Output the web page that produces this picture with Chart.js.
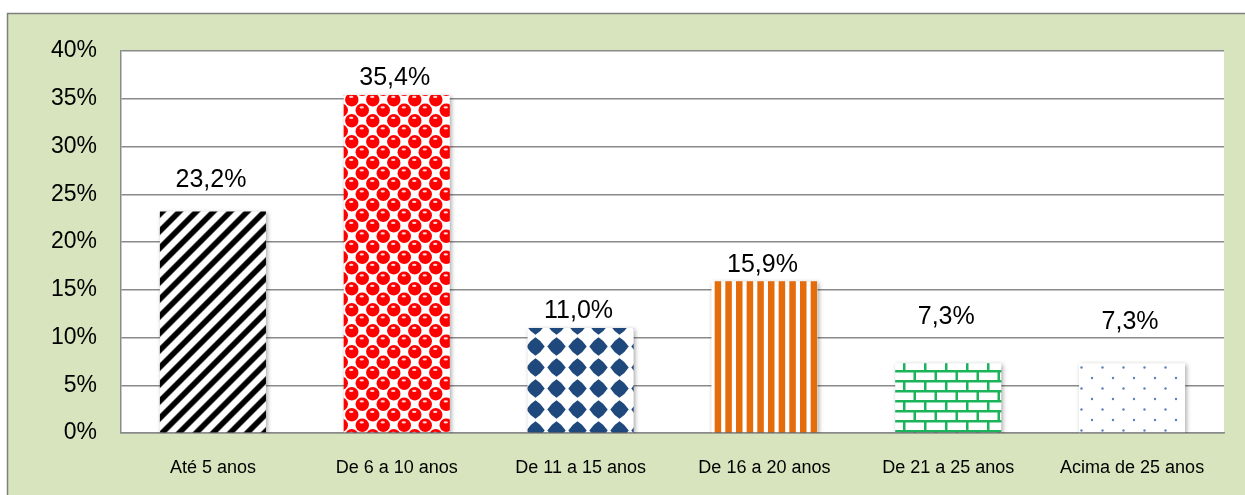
<!DOCTYPE html>
<html>
<head>
<meta charset="utf-8">
<script src="https://cdn.jsdelivr.net/npm/chart.js@4.4.0/dist/chart.umd.min.js"></script>
<style>
  body { margin: 0; background: #fff; }
  #wrap { width: 1245px; height: 495px; }
</style>
</head>
<body>
<div id="wrap"><canvas id="ageChart"></canvas></div>
<script>
const categories = ["Até 5 anos", "De 6 a 10 anos", "De 11 a 15 anos", "De 16 a 20 anos", "De 21 a 25 anos", "Acima de 25 anos"];
const shares = [23.2, 35.4, 11.0, 15.9, 7.3, 7.3];
const yTickLabels = ["0%", "5%", "10%", "15%", "20%", "25%", "30%", "35%", "40%"];

// how far above each bar its label sits (Excel moved some of them)
const labelLift = [24, 10, 10, 9, 39, 34];
const FONT = "'Liberation Sans', Arial, sans-serif";

function makeTile(w, h, draw) {
    const c = document.createElement("canvas");
    c.width = w;
    c.height = h;
    const g = c.getContext("2d");
    g.fillStyle = "#fff";
    g.fillRect(0, 0, w, h);
    draw(g, w, h);
    return g.createPattern(c, "repeat");
}

// diagonal "/" stripes, computed per pixel so the tile wraps cleanly
const stripes = makeTile(17, 17, (g, w, h) => {
    const img = g.getImageData(0, 0, w, h);
    for (let y = 0; y < h; y++) {
        for (let x = 0; x < w; x++) {
            let t = (x + y + 1) % w;
            if (t > w / 2) t = w - t;
            const d = t / Math.SQRT2;           // distance to stripe centre
            let k = Math.min(1, Math.max(0, (d - 2.0) / 1.6));
            const v = Math.round(255 * k);
            const p = (y * w + x) * 4;
            img.data[p] = img.data[p + 1] = img.data[p + 2] = v;
            img.data[p + 3] = 255;
        }
    }
    g.putImageData(img, 0, 0);
});

const spheres = makeTile(21, 21, (g, w, h) => {
    const centers = [[5.25, 5.25], [15.75, 15.75]];
    for (const [cx, cy] of centers) {
        for (const dx of [-w, 0, w]) {
            for (const dy of [-h, 0, h]) {
                const x = cx + dx, y = cy + dy;
                g.fillStyle = "#ff0000";
                g.beginPath();
                g.arc(x, y, 6.7, 0, Math.PI * 2);
                g.fill();
                g.fillStyle = "rgba(255,255,255,0.85)";
                g.beginPath();
                g.ellipse(x - 0.5, y - 2.8, 2.2, 1.1, 0, 0, Math.PI * 2);
                g.fill();
            }
        }
    }
});

const diamonds = makeTile(21, 21, (g, w, h) => {
    const cx = 10.5, cy = 10.5, r = 9.2;
    g.fillStyle = "#1f497d";
    g.beginPath();
    g.moveTo(cx, cy - r);
    g.quadraticCurveTo(cx + r * 0.62, cy - r * 0.62, cx + r, cy);
    g.quadraticCurveTo(cx + r * 0.62, cy + r * 0.62, cx, cy + r);
    g.quadraticCurveTo(cx - r * 0.62, cy + r * 0.62, cx - r, cy);
    g.quadraticCurveTo(cx - r * 0.62, cy - r * 0.62, cx, cy - r);
    g.fill();
});

const vstripes = makeTile(32, 10, (g) => {
    g.fillStyle = "#e46c0a";
    for (let i = 0; i < 3; i++) g.fillRect(i * 32 / 3, 0, 6.5, 10);
});

const bricks = makeTile(21, 20, (g) => {
    g.fillStyle = "#1cb45a";
    g.fillRect(0, 0, 21, 2.5);
    g.fillRect(0, 10, 21, 2.5);
    g.fillRect(0, 2, 2.5, 8);
    g.fillRect(10.5, 12, 2.5, 8);
});

const dots = makeTile(21, 21, (g, w, h) => {
    g.fillStyle = "#5a82bf";
    const pts = [[0, 0], [w, 0], [0, h], [w, h], [10.5, 10.5]];
    for (const [x, y] of pts) {
        g.beginPath();
        g.arc(x, y, 1.2, 0, Math.PI * 2);
        g.fill();
    }
});

const frame = {
    id: "frame",
    beforeDraw(chart) {
        const ctx = chart.ctx, a = chart.chartArea;
        ctx.save();
        ctx.fillStyle = "#fff";
        ctx.fillRect(0, 0, chart.width, chart.height);
        ctx.fillStyle = "#d7e4bd";
        ctx.fillRect(7, 13, chart.width, chart.height);
        ctx.strokeStyle = "#7f7f7f";
        ctx.lineWidth = 1.5;
        ctx.strokeRect(7.5, 13.5, chart.width + 10, chart.height + 10);
        ctx.fillStyle = "#fff";
        ctx.fillRect(a.left, a.top, a.right - a.left, a.bottom - a.top);
        ctx.restore();
    }
};

const barLabels = {
    id: "barLabels",
    beforeDatasetsDraw(chart) {
        const ctx = chart.ctx;
        ctx.save();
        ctx.shadowColor = "rgba(0,0,0,0.35)";
        ctx.shadowBlur = 4;
        ctx.shadowOffsetX = 1.5;
        ctx.shadowOffsetY = 1.5;
    },
    afterDatasetsDraw(chart) {
        const ctx = chart.ctx;
        ctx.restore();
        ctx.save();
        ctx.fillStyle = "#000";
        ctx.font = "25px " + FONT;
        ctx.textAlign = "center";
        ctx.textBaseline = "alphabetic";
        chart.getDatasetMeta(0).data.forEach((bar, i) => {
            const txt = shares[i].toFixed(1).replace(".", ",") + "%";
            ctx.fillText(txt, bar.x - 2, bar.y - labelLift[i]);
        });
        ctx.restore();
    }
};

const ctx = document.getElementById("ageChart").getContext("2d");
new Chart(ctx, {
    type: "bar",
    data: {
        labels: categories,
        datasets: [{
            data: shares,
            backgroundColor: [stripes, spheres, diamonds, vstripes, bricks, dots],
            borderWidth: 0,
            categoryPercentage: 1,
            barPercentage: 0.577
        }]
    },
    options: {
        responsive: true,
        maintainAspectRatio: false,
        animation: false,
        layout: { padding: { left: 0, top: 51, right: 21, bottom: 0 } },
        plugins: {
            legend: { display: false },
            tooltip: { enabled: false }
        },
        scales: {
            x: {
                grid: { display: false },
                border: { display: true, color: "#8a8a8a", width: 1.5 },
                ticks: {
                    color: "#000",
                    font: { family: FONT, size: 18 },
                    padding: 16,
                    maxRotation: 0,
                    autoSkip: false
                },
                afterFit(scale) { scale.height = 62; }
            },
            y: {
                min: 0,
                max: 40,
                grid: { color: "#8a8a8a", lineWidth: 1.5, drawTicks: false },
                border: { display: true, color: "#8a8a8a", width: 1.5 },
                ticks: {
                    stepSize: 5,
                    color: "#000",
                    font: { family: FONT, size: 23 },
                    padding: 24,
                    callback: (v, i) => yTickLabels[i]
                },
                afterFit(scale) { scale.width = 121; }
            }
        }
    },
    plugins: [frame, barLabels]
});
</script>
</body>
</html>
